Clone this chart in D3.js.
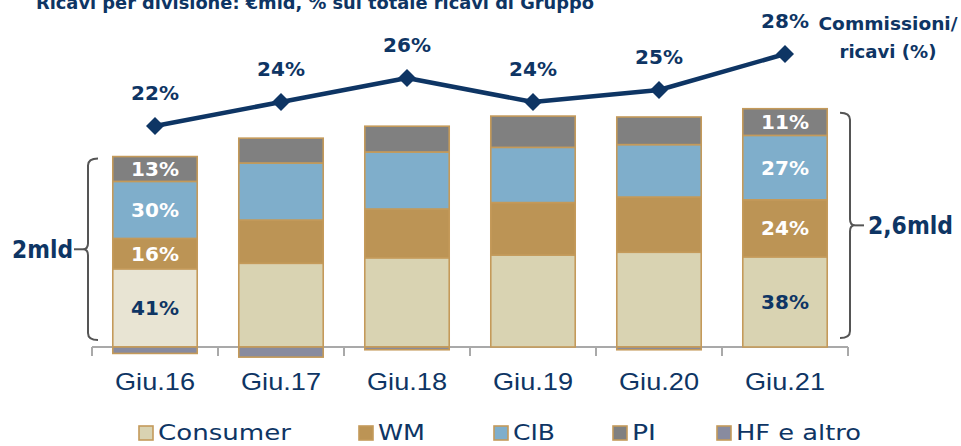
<!DOCTYPE html>
<html>
<head>
<meta charset="utf-8">
<script src="https://cdn.jsdelivr.net/npm/d3@7"></script>
<style>
  html, body { margin: 0; padding: 0; background: #fff; }
  svg { display: block; font-family: "DejaVu Sans", sans-serif; }
</style>
</head>
<body>
<svg id="chart" width="961" height="446"></svg>
<script>
// Revenues by division (€bn) and fee share of revenues (%)
const periods = ["Giu.16", "Giu.17", "Giu.18", "Giu.19", "Giu.20", "Giu.21"];
const divisions = ["Consumer", "WM", "CIB", "PI", "HF e altro"];
const consumer = [0.85, 0.91, 0.97, 1.00, 1.03, 0.98];
const wm       = [0.33, 0.47, 0.53, 0.57, 0.60, 0.62];
const cib      = [0.62, 0.62, 0.62, 0.60, 0.57, 0.70];
const pi       = [0.27, 0.27, 0.28, 0.34, 0.30, 0.29];
const hf       = [-0.07, -0.11, -0.03, 0.00, -0.03, 0.00];
const feeRatio = [22, 24, 26, 24, 25, 28];
// share of group revenues printed on the first and last bar
const sharesFirst = [41, 16, 30, 13];
const sharesLast  = [38, 24, 27, 11];
const totalFirst = "2mld";
const totalLast = "2,6mld";
const title = "Ricavi per divisione: €mld, % sul totale ricavi di Gruppo";
const ratioTitle = ["Commissioni/", "ricavi (%)"];

const navy = "#0E3564";
const border = "#C49A5A";
const colors = {
  "Consumer": "#D9D3B2",
  "WM": "#BC9455",
  "CIB": "#7FAECB",
  "PI": "#808080",
  "HF e altro": "#888B9F"
};
const consumerFirstFill = "#E8E4D3";

const svg = d3.select("#chart");

const rows = periods.map((p, i) => ({
  period: p,
  "Consumer": consumer[i], "WM": wm[i], "CIB": cib[i], "PI": pi[i], "HF e altro": hf[i]
}));

const x = d3.scaleBand().domain(periods).range([92, 848]).paddingInner(0.33).paddingOuter(0.165);
const y = d3.scaleLinear().domain([-0.2, 2.9]).range([347 + 0.2 * 92, 347 - 2.9 * 92]);
const yr = d3.scaleLinear().domain([22, 28]).range([126, 54]);

// title (partly above the top edge)
svg.append("text")
  .attr("x", 36).attr("y", 9)
  .attr("font-size", 17).attr("font-weight", "bold")
  .attr("fill", navy)
  .attr("textLength", 558).attr("lengthAdjust", "spacingAndGlyphs")
  .text(title);

// axis: baseline and band ticks
const axisG = svg.append("g").attr("transform", `translate(0,${y(0)})`);
const xAxis = d3.axisBottom(x).tickSize(0).tickPadding(0);
axisG.call(xAxis);
axisG.select(".domain").remove();
axisG.selectAll(".tick line").remove();
axisG.selectAll(".tick text").remove();
const bandEdges = periods.map(p => x(p) - x.step() * x.paddingInner() / 2).concat([848]);
axisG.append("line").attr("x1", 92).attr("x2", 848).attr("stroke", "#A9A9A9").attr("stroke-width", 2);
axisG.selectAll(".edge").data(bandEdges).join("line")
  .attr("class", "edge")
  .attr("x1", d => d).attr("x2", d => d)
  .attr("y1", 0).attr("y2", 9)
  .attr("stroke", "#A9A9A9").attr("stroke-width", 2);
axisG.selectAll(".lbl").data(periods).join("text")
  .attr("class", "lbl")
  .attr("x", d => x(d) + x.bandwidth() / 2)
  .attr("y", 43)
  .attr("text-anchor", "middle")
  .attr("font-size", 24)
  .attr("fill", navy)
  .attr("textLength", 80).attr("lengthAdjust", "spacingAndGlyphs")
  .text(d => d);

// stacked bars
const stack = d3.stack().keys(divisions).offset(d3.stackOffsetDiverging);
const series = stack(rows);

const barG = svg.append("g");
series.forEach(s => {
  barG.append("g").selectAll("rect").data(s).join("rect")
    .attr("x", d => x(d.data.period))
    .attr("width", x.bandwidth())
    .attr("y", d => y(Math.max(d[0], d[1])))
    .attr("height", d => Math.abs(y(d[0]) - y(d[1])))
    .attr("fill", (d, i) => (s.key === "Consumer" && i === 0) ? consumerFirstFill : colors[s.key])
    .attr("stroke", border)
    .attr("stroke-width", 1.6);
});

// percentage labels on first and last bar
function shareLabels(idx, shares) {
  const labelColor = ["#0E3564", "#fff", "#fff", "#fff"];
  shares.forEach((v, k) => {
    const seg = series[k][idx];
    barG.append("text")
      .attr("x", x(periods[idx]) + x.bandwidth() / 2)
      .attr("y", (y(seg[0]) + y(seg[1])) / 2 + 7)
      .attr("text-anchor", "middle")
      .attr("font-size", 20).attr("font-weight", "bold")
      .attr("fill", labelColor[k])
      .text(v + "%");
  });
}
shareLabels(0, sharesFirst);
shareLabels(periods.length - 1, sharesLast);

// totals with braces
const topOf = i => y(consumer[i] + wm[i] + cib[i] + pi[i]);
const braceG = svg.append("g").attr("fill", "none").attr("stroke", "#555").attr("stroke-width", 2);
{
  const bx = 88, t = topOf(0) + 2, b = y(0) - 7, m = (t + b) / 2;
  braceG.append("path").attr("d",
    `M${bx + 10},${t} Q${bx},${t} ${bx},${t + 7} L${bx},${m - 6} Q${bx},${m} ${bx - 5},${m} Q${bx},${m} ${bx},${m + 6} L${bx},${b - 7} Q${bx},${b} ${bx + 10},${b}`);
  braceG.append("line").attr("x1", 74).attr("x2", bx - 5).attr("y1", m).attr("y2", m);
  svg.append("text").attr("x", 12).attr("y", m + 9)
    .attr("font-size", 24).attr("font-weight", "bold").attr("fill", navy)
    .attr("textLength", 61).attr("lengthAdjust", "spacingAndGlyphs")
    .text(totalFirst);
}
{
  const bx = 850, t = topOf(5) + 4, b = y(0) - 9, m = (t + b) / 2;
  braceG.append("path").attr("d",
    `M${bx - 10},${t} Q${bx},${t} ${bx},${t + 7} L${bx},${m - 6} Q${bx},${m} ${bx + 5},${m} Q${bx},${m} ${bx},${m + 6} L${bx},${b - 7} Q${bx},${b} ${bx - 10},${b}`);
  braceG.append("line").attr("x1", bx + 5).attr("x2", 864).attr("y1", m).attr("y2", m);
  svg.append("text").attr("x", 868).attr("y", m + 9)
    .attr("font-size", 24).attr("font-weight", "bold").attr("fill", navy)
    .attr("textLength", 85).attr("lengthAdjust", "spacingAndGlyphs")
    .text(totalLast);
}

// fee ratio line
const cx = i => x(periods[i]) + x.bandwidth() / 2;
const line = d3.line().x((d, i) => cx(i)).y(d => yr(d));
svg.append("path").datum(feeRatio)
  .attr("d", line)
  .attr("fill", "none").attr("stroke", navy).attr("stroke-width", 4.5)
  .attr("stroke-linejoin", "round");
svg.selectAll(".dia").data(feeRatio).join("path")
  .attr("class", "dia")
  .attr("transform", (d, i) => `translate(${cx(i)},${yr(d)})`)
  .attr("d", "M0,-9 L9,0 L0,9 L-9,0 Z")
  .attr("fill", navy);
svg.selectAll(".rlbl").data(feeRatio).join("text")
  .attr("class", "rlbl")
  .attr("x", (d, i) => cx(i))
  .attr("y", d => yr(d) - 26)
  .attr("text-anchor", "middle")
  .attr("font-size", 20).attr("font-weight", "bold")
  .attr("fill", navy)
  .text(d => d + "%");

svg.append("text").attr("x", 888).attr("y", 30)
  .attr("text-anchor", "middle").attr("font-size", 17).attr("font-weight", "bold").attr("fill", navy)
  .attr("textLength", 139).attr("lengthAdjust", "spacingAndGlyphs")
  .text(ratioTitle[0]);
svg.append("text").attr("x", 888).attr("y", 58)
  .attr("text-anchor", "middle").attr("font-size", 17).attr("font-weight", "bold").attr("fill", navy)
  .attr("textLength", 97).attr("lengthAdjust", "spacingAndGlyphs")
  .text(ratioTitle[1]);

// legend
const legendX = [139, 359, 494, 613, 717];
const legendW = [133, 47, 42, 24, 125];
const leg = svg.append("g");
divisions.forEach((k, i) => {
  leg.append("rect")
    .attr("x", legendX[i]).attr("y", 426)
    .attr("width", 14).attr("height", 14)
    .attr("fill", colors[k])
    .attr("stroke", border).attr("stroke-width", 1.6);
  leg.append("text")
    .attr("x", legendX[i] + 19).attr("y", 440)
    .attr("font-size", 22).attr("fill", navy)
    .attr("textLength", legendW[i]).attr("lengthAdjust", "spacingAndGlyphs")
    .text(k);
});
</script>
</body>
</html>
